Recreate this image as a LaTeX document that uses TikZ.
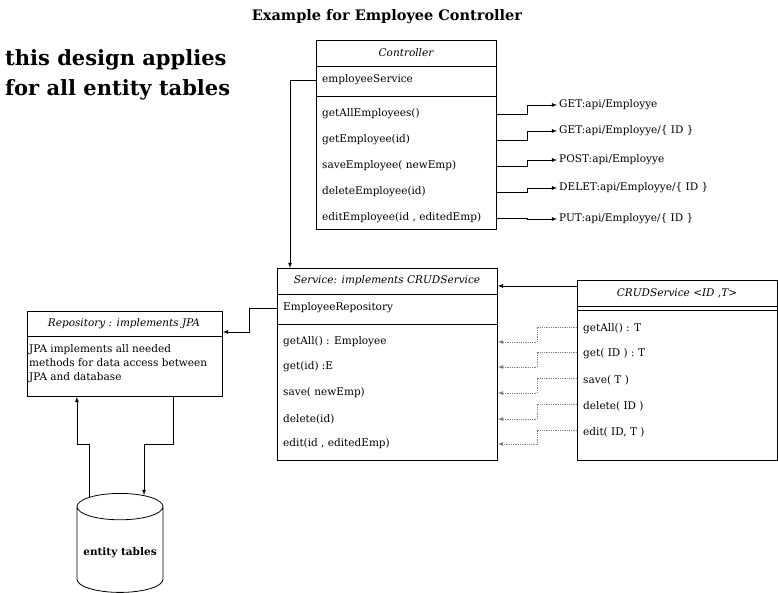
\documentclass[tikz,border=0pt]{standalone}
\usepackage{fontspec}
\setmainfont{DejaVu Serif}
\usetikzlibrary{shapes.geometric,positioning,arrows}
\tikzset{
 box/.style
  = {rectangle, draw, anchor=north west, inner sep=0pt, line width=0.8pt},
 head/.style
  = {inner sep=0pt, font=\itshape\fontsize{10.5}{12}\selectfont},
 row/.style
  = {anchor=west, inner sep=0pt, font=\fontsize{10.5}{12}\selectfont},
 arrow/.style
  = {->, >=latex, line width=0.8pt},
 dep/.style
  = {->, >=latex, gray, densely dotted, line width=0.8pt},
}

\begin{document}
\begin{tikzpicture}[x=1pt, y=-1pt]
\useasboundingbox (0,0) rectangle (778,593);

% Titles
\node[font=\bfseries\fontsize{14.5}{16}\selectfont] (title) at (387,17) {Example for Employee Controller};
\node[anchor=west, align=left, inner sep=0pt, font=\bfseries\fontsize{21}{30}\selectfont] (note) at (5,75) {this design applies\\for all entity tables};

% Controller
\node[box, minimum width=180pt, minimum height=189pt] (ctrl) at (316,40) {};
\node[head] (ctrlT) at (406,53) {Controller};
\draw[line width=0.8pt] ([yshift=-26pt]ctrl.north west) -- ([yshift=-26pt]ctrl.north east);
\draw[line width=0.8pt] ([yshift=-56pt]ctrl.north west) -- ([yshift=-56pt]ctrl.north east);
\node[row] (ctrlSvc) at (322,80) {employeeService};
\node[row] (ctrlGetAll) at (322,114) {getAllEmployees()};
\node[row] (ctrlGet) at (322,140) {getEmployee(id)};
\node[row] (ctrlSave) at (322,166) {saveEmployee( newEmp)};
\node[row] (ctrlDel) at (322,192) {deleteEmployee(id)};
\node[row] (ctrlEdit) at (322,218) {editEmployee(id , editedEmp)};

% Endpoints
\node[row] (epGetAll) at (559,105) {GET:api/Employye};
\node[row] (epGet) at (559,131) {GET:api/Employye/\{ ID \}};
\node[row] (epSave) at (559,160) {POST:api/Employye};
\node[row] (epDel) at (559,188) {DELET:api/Employye/\{ ID \}};
\node[row] (epEdit) at (559,219) {PUT:api/Employye/\{ ID \}};

\draw[arrow] (ctrlGetAll -| ctrl.east) -- ++(31,0) |- ([xshift=-2pt]epGetAll.west);
\draw[arrow] (ctrlGet -| ctrl.east) -- ++(31,0) |- ([xshift=-2pt]epGet.west);
\draw[arrow] (ctrlSave -| ctrl.east) -- ++(31,0) |- ([xshift=-2pt]epSave.west);
\draw[arrow] (ctrlDel -| ctrl.east) -- ++(31,0) |- ([xshift=-2pt]epDel.west);
\draw[arrow] (ctrlEdit -| ctrl.east) -- ++(31,0) |- ([xshift=-2pt]epEdit.west);

% Service
\node[box, minimum width=220pt, minimum height=192pt] (svc) at (277,268) {};
\node[head] (svcT) at (387,281) {Service: implements CRUDService};
\draw[line width=0.8pt] ([yshift=-26pt]svc.north west) -- ([yshift=-26pt]svc.north east);
\draw[line width=0.8pt] ([yshift=-56pt]svc.north west) -- ([yshift=-56pt]svc.north east);
\node[row] (svcRepo) at (283,308) {EmployeeRepository};
\node[row] (svcGetAll) at (283,342) {getAll() : Employee};
\node[row] (svcGet) at (283,367) {get(id) :E};
\node[row] (svcSave) at (283,393) {save( newEmp)};
\node[row] (svcDel) at (283,419) {delete(id)};
\node[row] (svcEdit) at (283,444) {edit(id , editedEmp)};

\coordinate (k) at (290,80);
\draw[arrow] (ctrlSvc -| ctrl.west) -- (k) -- (k |- svc.north);

% CRUDService
\node[box, minimum width=200pt, minimum height=180pt] (crud) at (577,280) {};
\node[head] (crudT) at (677,293) {CRUDService <ID ,T>};
\draw[line width=0.8pt] ([yshift=-26pt]crud.north west) -- ([yshift=-26pt]crud.north east);
\draw[line width=0.8pt] ([yshift=-30pt]crud.north west) -- ([yshift=-30pt]crud.north east);
\node[row] (crudGetAll) at (583,329) {getAll() : T};
\node[row] (crudGet) at (583,354) {get( ID ) : T};
\node[row] (crudSave) at (583,380) {save( T )};
\node[row] (crudDel) at (583,406) {delete( ID )};
\node[row] (crudEdit) at (583,432) {edit( ID, T )};

\coordinate (crudIn) at ([yshift=-6pt]crud.north west);
\draw[arrow] (crudIn) -- (crudIn -| svc.east);
\draw[dep] ([yshift=2pt]crudGetAll.west -| crud.west) -- ++(-40,0) |- (svcGetAll -| svc.east);
\draw[dep] ([yshift=2pt]crudGet.west -| crud.west) -- ++(-40,0) |- (svcGet -| svc.east);
\draw[dep] ([yshift=2pt]crudSave.west -| crud.west) -- ++(-40,0) |- (svcSave -| svc.east);
\draw[dep] ([yshift=2pt]crudDel.west -| crud.west) -- ++(-40,0) |- (svcDel -| svc.east);
\draw[dep] ([yshift=2pt]crudEdit.west -| crud.west) -- ++(-40,0) |- (svcEdit -| svc.east);

% Repository
\node[box, minimum width=195pt, minimum height=85pt] (repo) at (27,311) {};
\node[head] (repoT) at (124,324) {Repository : implements JPA};
\draw[line width=0.8pt] ([yshift=-25pt]repo.north west) -- ([yshift=-25pt]repo.north east);
\node[anchor=north west, align=left, inner sep=0pt, font=\fontsize{10.5}{14}\selectfont] (repoTxt) at (29,344) {JPA implements all needed\\methods for data access between\\JPA and database};

\coordinate (repoIn) at ([yshift=-21pt]repo.north east);
\draw[arrow] (svcRepo -| svc.west) -- ++(-28,0) |- (repoIn);

% Database
\node[cylinder, draw, line width=0.8pt, shape border rotate=90, aspect=0.33, minimum width=86pt, minimum height=99pt, anchor=north, font=\bfseries\fontsize{10.5}{12}\selectfont] (db) at (120,493) {entity tables};

\draw[arrow] ([xshift=48pt]repo.south) -- ++(0,48) -| ([xshift=24pt,yshift=-2pt]db.north);
\draw[arrow] ([xshift=-31pt,yshift=-4pt]db.north) -- ++(0,-53) -| ([xshift=-48pt]repo.south);

\end{tikzpicture}
\end{document}
